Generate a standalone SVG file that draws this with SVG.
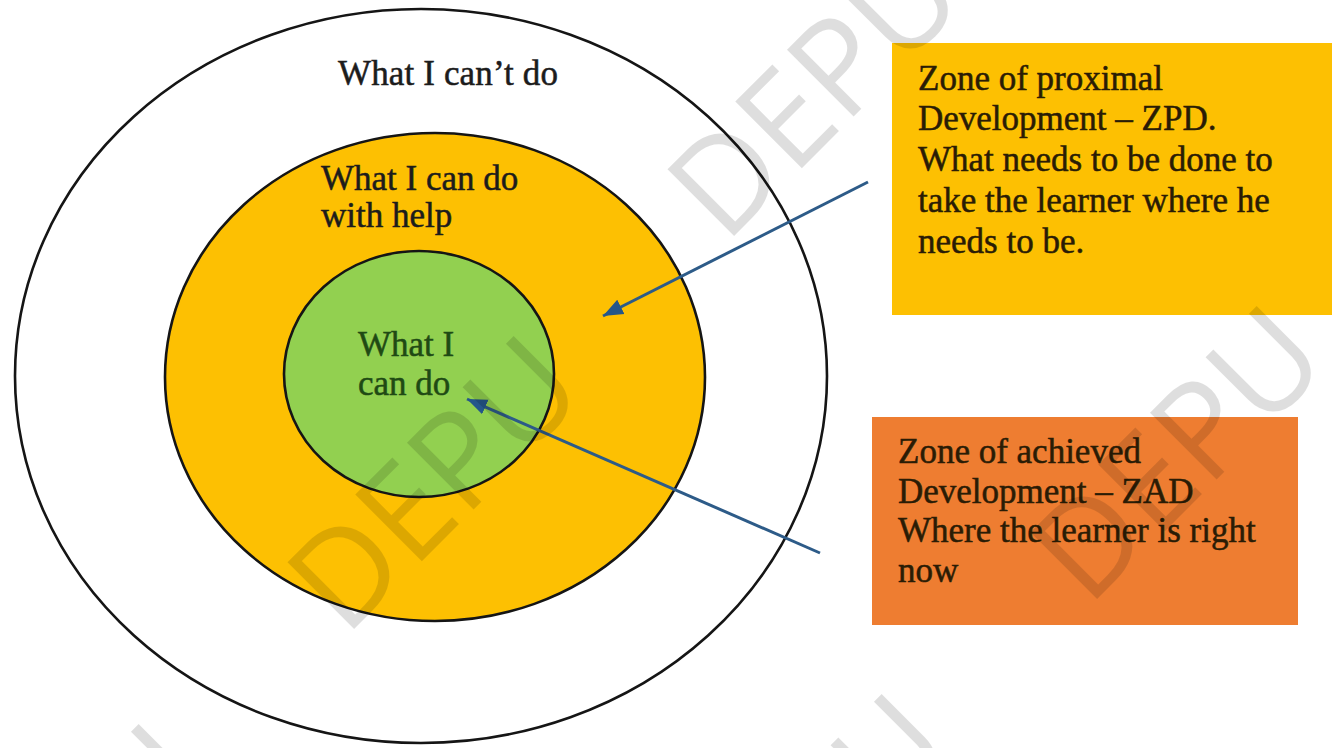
<svg xmlns="http://www.w3.org/2000/svg" width="1332" height="748" viewBox="0 0 1332 748">
  <style>
    .ring { stroke: #151515; stroke-width: 2.6; }
    .lbl { font-family: "Liberation Serif", "Times New Roman", serif; font-size: 35px; fill: #1c1c1c; stroke: #1c1c1c; stroke-width: 0.5; }
    .green { fill: #1f4a14; stroke: #1f4a14; }
    .box { font-family: "Liberation Serif", "Times New Roman", serif; font-size: 35px; fill: #2a1c05; stroke: #2a1c05; stroke-width: 0.5; }
    .conn { stroke: #2d5b88; stroke-width: 3; fill: none; }
    .wm { font-family: "Open Sans", "DejaVu Sans", sans-serif; font-weight: 400; font-size: 132px; fill: #000; fill-opacity: 0.13; }
  </style>
  <defs>
    <marker id="arrow" markerUnits="userSpaceOnUse" markerWidth="22" markerHeight="18" refX="20" refY="9" orient="auto">
      <path d="M0,1 L20,9 L0,17 Z" fill="#24568a"/>
    </marker>
  </defs>
  <rect width="1332" height="748" fill="#ffffff"/>

  <g id="outer-zone">
    <ellipse class="ring" cx="421" cy="376" rx="406" ry="367" fill="#ffffff"/>
    <text class="lbl" x="338" y="85" textLength="220" lengthAdjust="spacing">What I can’t do</text>
  </g>

  <g id="zpd-zone">
    <ellipse class="ring" cx="435" cy="377" rx="270" ry="244" fill="#fdc002"/>
    <text class="lbl" x="321" y="190">What I can do</text>
    <text class="lbl" x="321" y="227">with help</text>
  </g>

  <g id="zad-zone">
    <ellipse class="ring" cx="419" cy="374" rx="135" ry="123" fill="#92d050"/>
    <text class="lbl green" x="358" y="356">What I</text>
    <text class="lbl green" x="358" y="395">can do</text>
  </g>

  <g id="zpd-box">
    <rect x="892" y="43" width="440" height="272" fill="#fdc002"/>
    <text class="box" x="918" y="90">Zone of proximal</text>
    <text class="box" x="918" y="130">Development – ZPD.</text>
    <text class="box" x="918" y="171">What needs to be done to</text>
    <text class="box" x="918" y="212">take the learner where he</text>
    <text class="box" x="918" y="253">needs to be.</text>
  </g>

  <g id="zad-box">
    <rect x="872" y="417" width="426" height="208" fill="#ee7d31"/>
    <text class="box" x="898" y="463">Zone of achieved</text>
    <text class="box" x="898" y="503">Development – ZAD</text>
    <text class="box" x="898" y="542">Where the learner is right</text>
    <text class="box" x="898" y="582">now</text>
  </g>

  <g id="connectors">
    <line class="conn" x1="868" y1="182" x2="603" y2="316" marker-end="url(#arrow)"/>
    <line class="conn" x1="820" y1="553" x2="467" y2="399" marker-end="url(#arrow)"/>
  </g>

  <g id="watermark">
    <text class="wm" transform="translate(725,245) rotate(-45)">DEPU</text>
    <text class="wm" transform="translate(345,638) rotate(-45)">DEPU</text>
    <text class="wm" transform="translate(1088,608) rotate(-45)">DEPU</text>
    <text class="wm" transform="translate(-30,1026) rotate(-45)">DEPU</text>
    <text class="wm" transform="translate(713,996) rotate(-45)">DEPU</text>
  </g>
</svg>
